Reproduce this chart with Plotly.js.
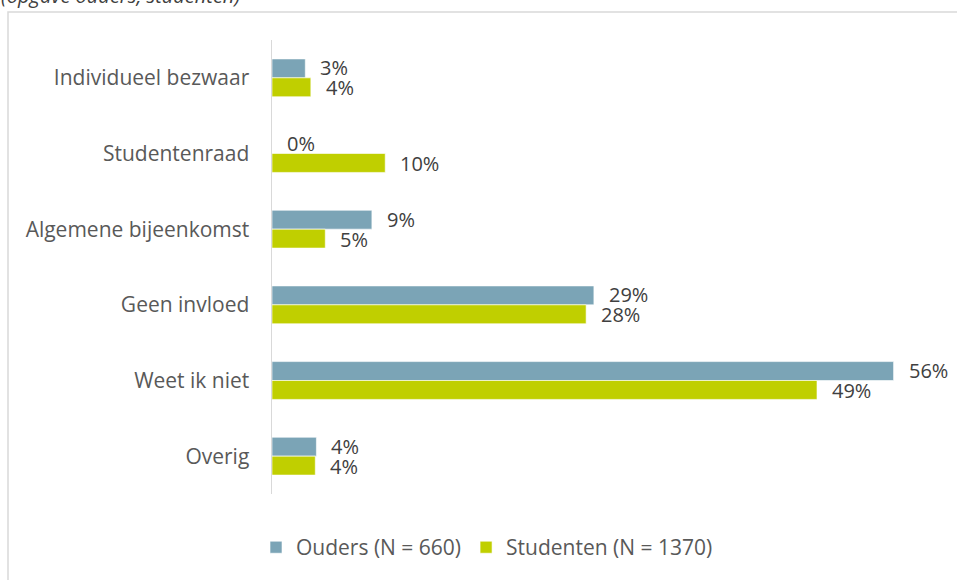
<!DOCTYPE html>
<html>
<head>
<meta charset="utf-8">
<script src="https://cdn.plot.ly/plotly-3.0.1.min.js"></script>
<style>html,body{margin:0;padding:0;background:#fff;}#chart{width:957px;height:580px;}</style>
</head>
<body>
<div id="chart"></div>
<script>
const categories = ["Individueel bezwaar", "Studentenraad", "Algemene bijeenkomst", "Geen invloed", "Weet ik niet", "Overig"];
const ouders = [3.0, 0.0, 9.0, 29.0, 56.0, 4.0];
const studenten = [3.5, 10.2, 4.8, 28.3, 49.1, 3.9];
const seriesNames = ["Ouders (N = 660)", "Studenten (N = 1370)"];
const seriesColors = ["#7BA4B6", "#C0CF00"];
const subtitle = "(opgave ouders, studenten)";

const FONT = "'Open Sans', sans-serif";

const traces = [ouders, studenten].map((vals, i) => ({
  type: "bar",
  orientation: "h",
  name: seriesNames[i],
  x: vals,
  y: categories,
  marker: {color: seriesColors[i], line: {color: "rgba(255,255,255,0.6)", width: 1}},
  hoverinfo: "skip"
}));

const annotations = [];
[ouders, studenten].forEach((vals, i) => {
  vals.forEach((v, j) => {
    annotations.push({
      x: v, y: categories[j], xref: "x", yref: "y",
      text: Math.round(v) + "%",
      showarrow: false, xanchor: "left", yanchor: "middle",
      xshift: 14, yshift: i === 0 ? 10 : -10, borderpad: 0,
      font: {family: FONT, size: 20, color: "#404040"}
    });
  });
});
annotations.push({
  x: 0, y: 1.0636, xref: "paper", yref: "paper",
  text: "<i>" + subtitle + "</i>", showarrow: false,
  xanchor: "left", yanchor: "bottom",
  xshift: -273,
  font: {family: FONT, size: 20, color: "#404040"}
});

const layout = {
  width: 957, height: 580,
  margin: {l: 272, r: 19, t: 40, b: 84},
  paper_bgcolor: "#fff", plot_bgcolor: "#fff",
  barmode: "group", bargap: 0.5, bargroupgap: 0,
  font: {family: FONT, size: 21, color: "#595959"},
  xaxis: {range: [0, 60], showgrid: false, zeroline: false, showticklabels: false, showline: false, fixedrange: true},
  yaxis: {autorange: "reversed", showgrid: false, zeroline: false, showline: true, linecolor: "#D9D9D9", linewidth: 1.5,
          ticks: "", ticklabelstandoff: 17, tickfont: {family: FONT, size: 21, color: "#595959"}, fixedrange: true},
  showlegend: true,
  legend: {orientation: "h", x: -0.024, xanchor: "left", y: -0.118, yanchor: "middle",
           font: {family: FONT, size: 21, color: "#595959"}, traceorder: "normal"},
  annotations: annotations,
  shapes: [{type: "rect", xref: "paper", yref: "paper", x0: -0.3964, x1: 2, y0: -1, y1: 1.0614,
            line: {color: "#D9D9D9", width: 1.5}, layer: "below"}]
};

Plotly.newPlot("chart", traces, layout, {displayModeBar: false, staticPlot: true});
</script>
</body>
</html>
